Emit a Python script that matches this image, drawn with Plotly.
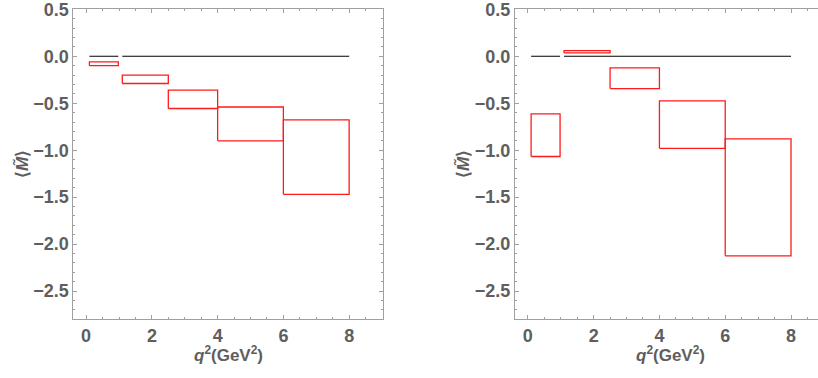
import plotly.graph_objects as go

# q^2 bins (GeV^2)
bin_lo = [0.1, 1.1, 2.5, 4.0, 6.0]
bin_hi = [0.98, 2.5, 4.0, 6.0, 8.0]

# left panel: <M~> bands (lower, upper)
left_lo = [-0.10, -0.29, -0.556, -0.90, -1.47]
left_hi = [-0.06, -0.20, -0.36, -0.54, -0.677]

# right panel: <M~> bands (lower, upper)
right_lo = [-1.067, 0.036, -0.344, -0.98, -2.124]
right_hi = [-0.613, 0.06, -0.124, -0.475, -0.879]

# SM reference (zero) line segments
ref_val = [0.0, 0.0]
ref_lo = [0.1, 1.1]
ref_hi = [0.98, 8.0]

x_ticks = [0, 2, 4, 6, 8]
y_ticks = [0.5, 0.0, -0.5, -1.0, -1.5, -2.0, -2.5]

W, H = 818, 378
fig = go.Figure()

def add_panel(lo, hi, xa, ya):
    for a, b, v in zip(ref_lo, ref_hi, ref_val):
        fig.add_trace(go.Scatter(x=[a, b], y=[v, v], mode="lines",
                                 line=dict(color="black", width=1.2),
                                 xaxis=xa, yaxis=ya, showlegend=False, hoverinfo="skip"))
    for a, b, l, h in zip(bin_lo, bin_hi, lo, hi):
        fig.add_trace(go.Scatter(x=[a, b, b, a, a], y=[l, l, h, h, l], mode="lines",
                                 line=dict(color="#ff1a1a", width=1.3),
                                 xaxis=xa, yaxis=ya, showlegend=False, hoverinfo="skip"))

add_panel(left_lo, left_hi, "x", "y")
add_panel(right_lo, right_hi, "x2", "y2")

axcol = "#a0a0a0"
tickfont = dict(family="Liberation Sans, Arial, sans-serif", size=18, color="#5e5e5e")

def xaxis(domain, rng, anchor, mirror):
    return dict(domain=domain, range=rng, anchor=anchor, tickvals=x_ticks,
                ticktext=[f"<b>{v}</b>" for v in x_ticks], ticks="inside", ticklen=4,
                tickcolor=axcol, showline=True, linecolor=axcol, linewidth=1,
                mirror=mirror, showgrid=False, zeroline=False, tickfont=tickfont,
                automargin=False, ticklabeloverflow="allow",
                minor=dict(dtick=0.5, tick0=0, ticks="inside", ticklen=2, tickcolor=axcol, showgrid=False))

def yaxis(domain, anchor, mirror):
    return dict(domain=domain, range=[-2.8, 0.502], anchor=anchor, tickvals=y_ticks,
                ticktext=["<b>" + ("\u2212" if v < 0 else "") + f"{abs(v):.1f}</b>" for v in y_ticks],
                ticks="inside", ticklen=4, tickcolor=axcol, showline=True, linecolor=axcol,
                linewidth=1, mirror=mirror, showgrid=False, zeroline=False, tickfont=tickfont,
                automargin=False, ticklabelstandoff=0, ticklabeloverflow="allow",
                minor=dict(dtick=0.1, tick0=0, ticks="inside", ticklen=2, tickcolor=axcol, showgrid=False))

ydom = [(H - 319.3) / H, (H - 9.1) / H]
fig.update_layout(
    width=W, height=H, margin=dict(l=0, r=0, t=0, b=0),
    paper_bgcolor="white", plot_bgcolor="white",
    xaxis=xaxis([73.3 / W, 383 / W], [-0.39, 9.03], "y", "ticks"),
    yaxis=yaxis(ydom, "x", "ticks"),
    xaxis2=xaxis([515 / W, 1.0], [-0.39, 8.82], "y2", "ticks"),
    yaxis2=yaxis(ydom, "x2", False),
)

titlefont = dict(family="Liberation Sans, Arial, sans-serif", size=17, color="#5e5e5e")
xlabel = "<b><i>q</i><sup>2</sup>(GeV<sup>2</sup>)</b>"
ylabel = "<b>\u27e8<i>M\u0303</i>\u27e9</b>"
for cx in [228, 670]:
    fig.add_annotation(text=xlabel, x=cx / W, y=(H - 354) / H, xref="paper", yref="paper",
                       showarrow=False, font=titlefont, xanchor="center", yanchor="middle")
for ty in [22, 463]:
    fig.add_annotation(text=ylabel, x=ty / W, y=(H - 164) / H, xref="paper", yref="paper",
                       showarrow=False, font=titlefont, textangle=-90, xanchor="center", yanchor="middle")

fig.write_html("out.html", config={"displayModeBar": False},
               post_script="document.body.style.margin='0';document.body.style.overflow='hidden';")
